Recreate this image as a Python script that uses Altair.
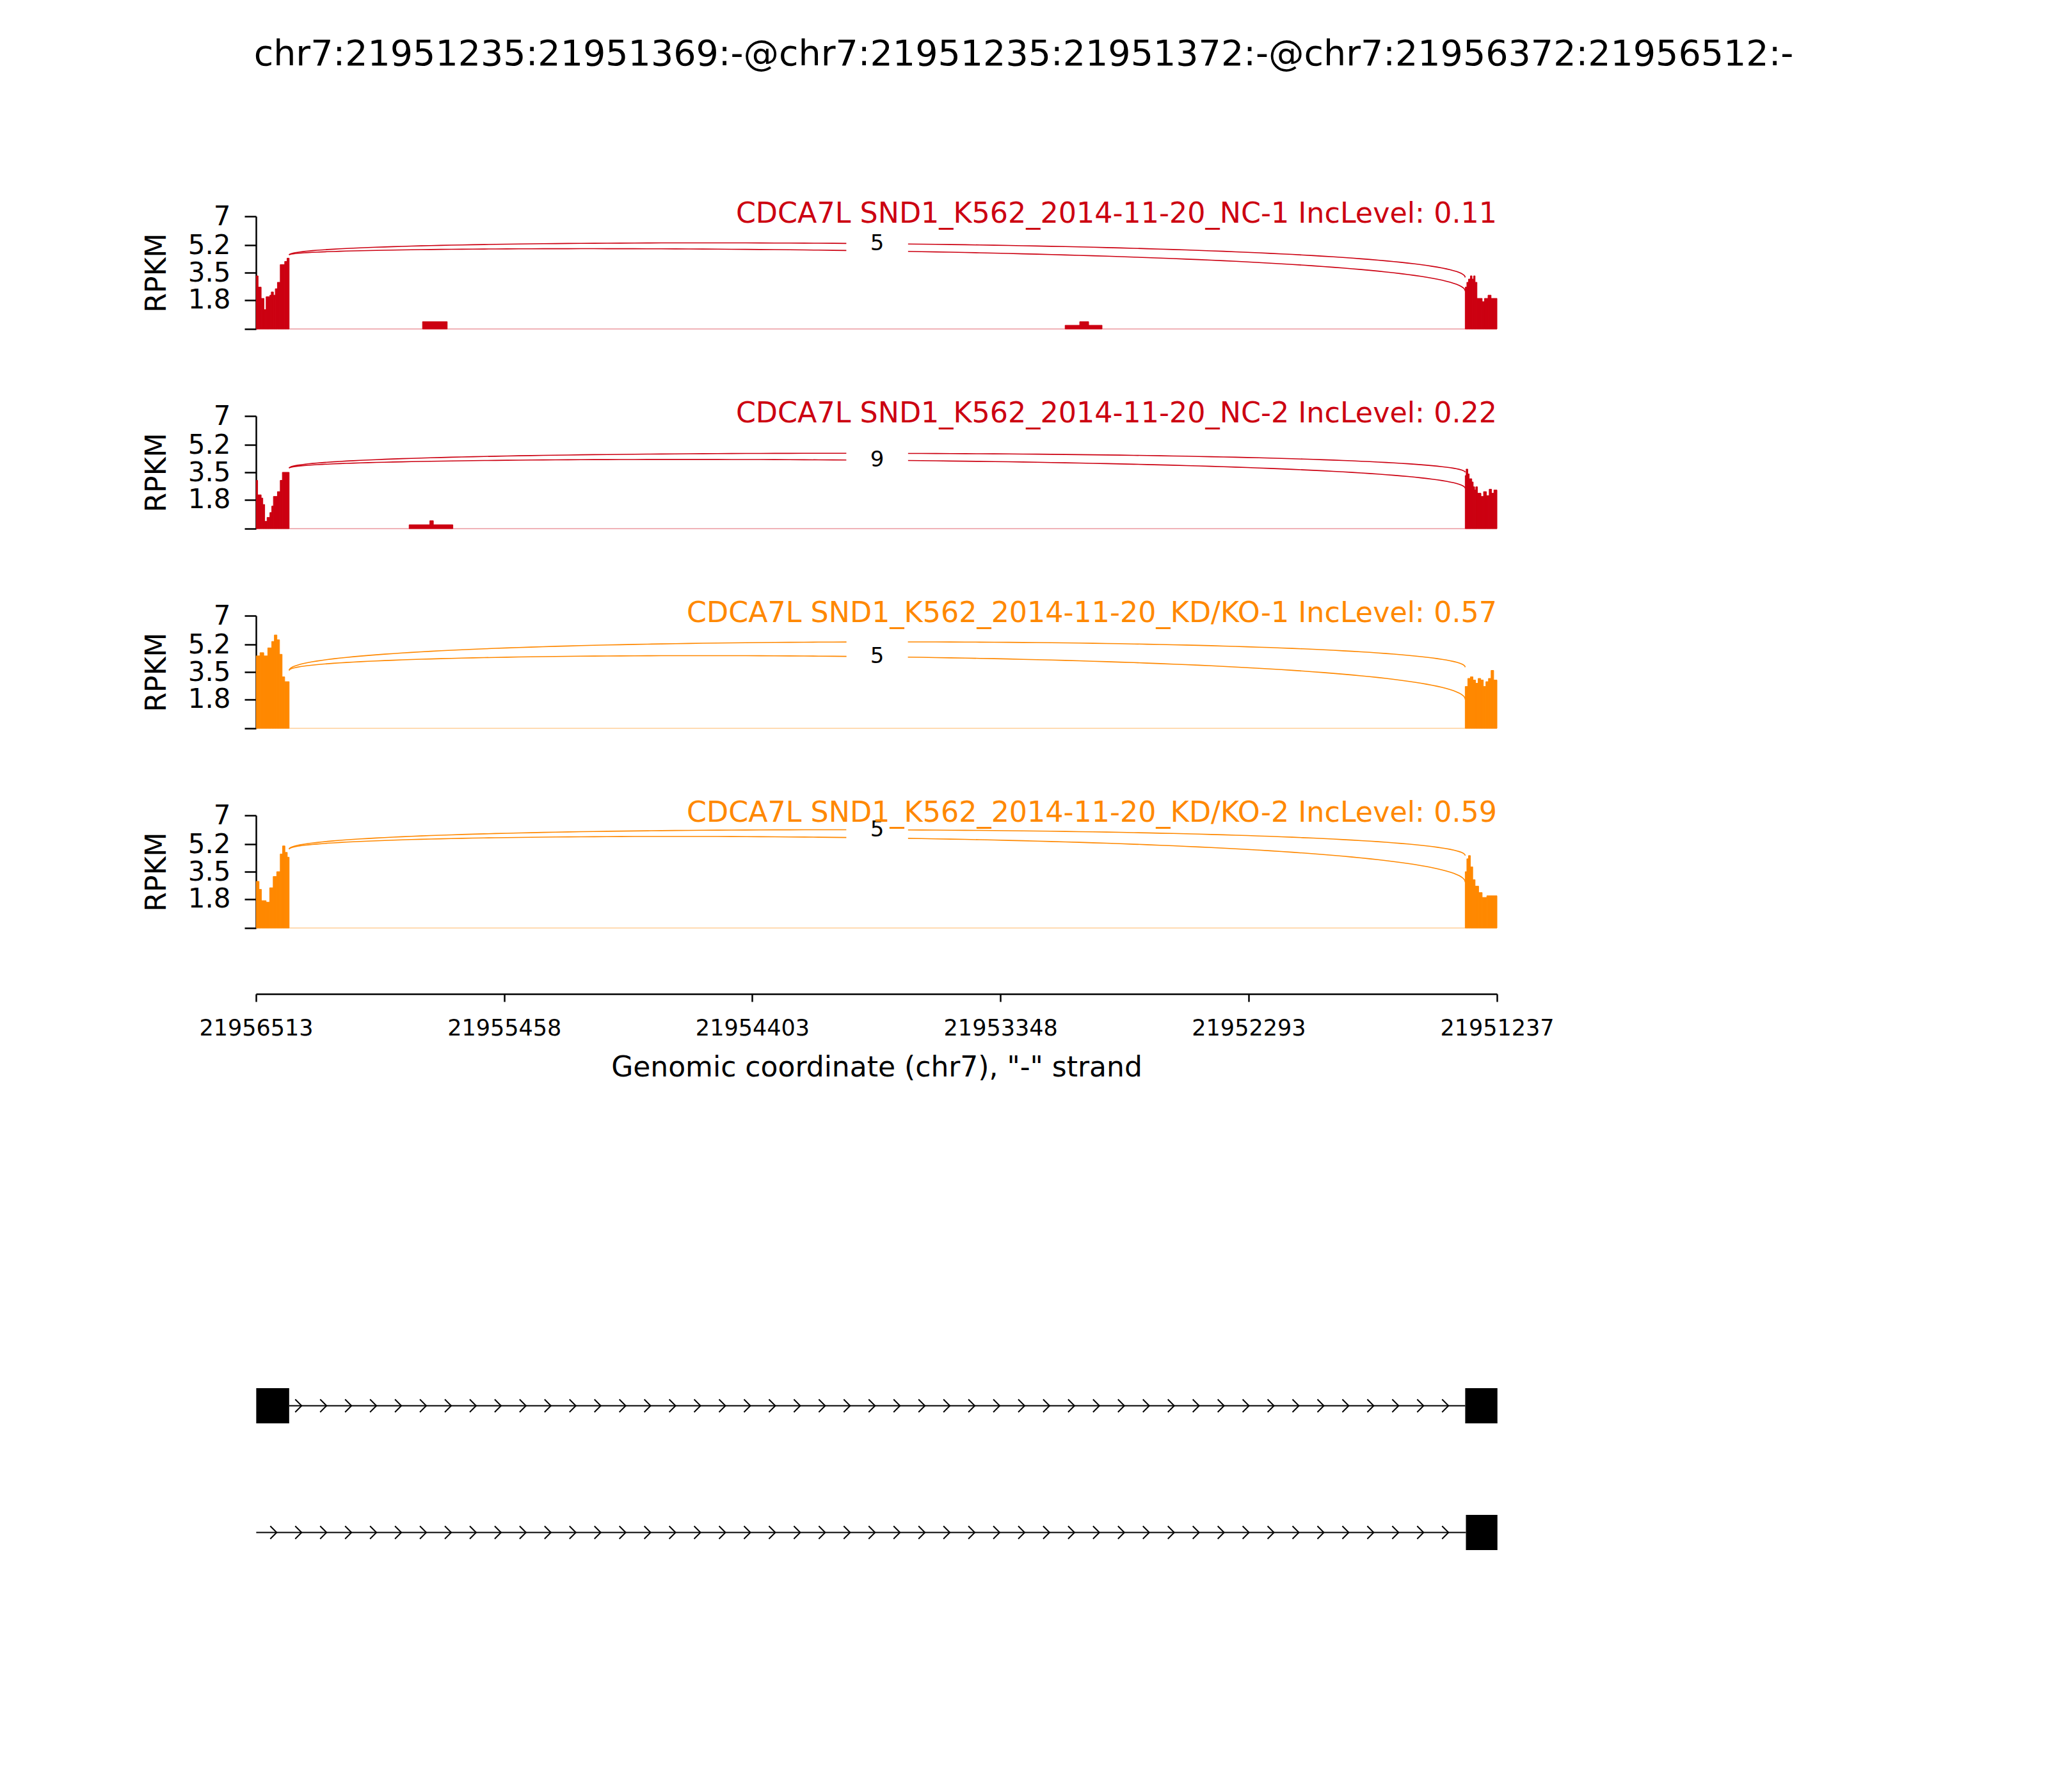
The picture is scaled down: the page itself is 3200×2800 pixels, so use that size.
import altair as alt
import numpy as np
import pandas as pd

FONT = "DejaVu Sans"
TITLE = "chr7:21951235:21951369:-@chr7:21951235:21951372:-@chr7:21956372:21956512:-"
X_LEFT = 21956513
X_RIGHT = 21951237
X_TICKS = [21956513, 21955458, 21954403, 21953348, 21952293, 21951237]
Y_TICKS = [0, 1.8, 3.5, 5.2, 7]
Y_MAX = 7
X_TITLE = 'Genomic coordinate (chr7), "-" strand'

SAMPLES = [
    "CDCA7L SND1_K562_2014-11-20_NC-1 IncLevel: 0.11",
    "CDCA7L SND1_K562_2014-11-20_NC-2 IncLevel: 0.22",
    "CDCA7L SND1_K562_2014-11-20_KD/KO-1 IncLevel: 0.57",
    "CDCA7L SND1_K562_2014-11-20_KD/KO-2 IncLevel: 0.59",
]
COLORS = ["#CC0011", "#CC0011", "#FF8800", "#FF8800"]

# ---- coverage (RPKM) blocks: edges (genomic) and value of each interval ----
S1_EDGES = [
    [21956512, 21956504, 21956491, 21956479, 21956470, 21956454, 21956448, 21956439,
     21956431, 21956422, 21956410, 21956391, 21956381, 21956372],
    [21955805, 21955700],
    [21953073, 21953011, 21952973, 21952916],
    [21951372, 21951365, 21951358, 21951350, 21951343, 21951336, 21951330, 21951322,
     21951300, 21951290, 21951275, 21951262, 21951250, 21951237],
]
S1_VALS = [
    [3.3, 2.6, 1.9, 1.2, 2.0, 2.1, 2.3, 2.1, 2.5, 2.9, 4.0, 4.2, 4.4],
    [0.45],
    [0.23, 0.45, 0.23],
    [2.6, 2.9, 3.1, 3.3, 3.1, 3.3, 2.9, 1.9, 1.7, 1.9, 2.1, 1.9, 1.9],
]
S2_EDGES = [
    [21956512, 21956506, 21956491, 21956484, 21956476, 21956466, 21956454, 21956446,
     21956439, 21956422, 21956410, 21956401, 21956372],
    [21955862, 21955774, 21955759, 21955676],
    [21951372, 21951368, 21951361, 21951355, 21951344, 21951338, 21951332, 21951327,
     21951320, 21951305, 21951294, 21951282, 21951270, 21951260, 21951250, 21951237],
]
S2_VALS = [
    [3.0, 2.1, 1.9, 1.5, 0.45, 0.7, 1.0, 1.4, 2.0, 2.3, 3.0, 3.5],
    [0.24, 0.49, 0.24],
    [3.3, 3.7, 3.4, 3.1, 2.9, 2.6, 2.4, 2.6, 2.2, 2.0, 2.3, 2.05, 2.45, 2.2, 2.4],
]
S3_EDGES = [
    [21956512, 21956496, 21956480, 21956463, 21956446, 21956435, 21956424, 21956413,
     21956402, 21956391, 21956372],
    [21951372, 21951361, 21951350, 21951339, 21951328, 21951317, 21951306, 21951295,
     21951284, 21951273, 21951262, 21951251, 21951237],
]
S3_VALS = [
    [4.5, 4.7, 4.5, 5.0, 5.4, 5.8, 5.5, 4.6, 3.2, 2.9],
    [2.6, 3.1, 3.2, 3.0, 2.8, 3.1, 3.0, 2.6, 2.9, 3.1, 3.6, 3.0],
]
S4_EDGES = [
    [21956512, 21956500, 21956490, 21956470, 21956455, 21956440, 21956425, 21956410,
     21956400, 21956390, 21956380, 21956372],
    [21951372, 21951365, 21951358, 21951350, 21951340, 21951330, 21951315, 21951300,
     21951280, 21951260, 21951237],
]
S4_VALS = [
    [2.9, 2.4, 1.7, 1.6, 2.5, 3.2, 3.5, 4.6, 5.1, 4.7, 4.4],
    [3.5, 4.3, 4.5, 3.8, 3.0, 2.6, 2.2, 1.9, 2.0, 2.0],
]
COV_EDGES = [S1_EDGES, S2_EDGES, S3_EDGES, S4_EDGES]
COV_VALS = [S1_VALS, S2_VALS, S3_VALS, S4_VALS]

# ---- junction arcs (start, middle and end heights) ----
JUNC_LEFT = 21956372
JUNC_RIGHT = 21951372
ARC_Y_LEFT = [4.6, 3.76, 3.6, 4.9]
ARC_UP_MID = [5.3, 4.68, 5.37, 6.1]
ARC_UP_END = [3.2, 3.5, 3.8, 4.5]
ARC_LO_MID = [4.85, 4.25, 4.45, 5.6]
ARC_LO_END = [2.35, 2.5, 1.8, 2.85]
ARC_UP_LABEL = ["5", "", "", "5"]
ARC_LO_LABEL = ["", "9", "5", ""]

# ---- gene model tracks ----
TRACK_EXONS = [
    [(21956512, 21956372), (21951372, 21951235)],
    [(21951369, 21951235)],
]
TRACK_LINES = [(21956372, 21951372), (21956512, 21951369)]
TRACK_ARROW_START = [21956330, 21956436]
TRACK_ARROW_STOP = 21951420
ARROW_STEP = 106

XSCALE = alt.Scale(domain=[X_RIGHT, X_LEFT], reverse=True, nice=False, zero=False)
YSCALE = alt.Scale(domain=[0, Y_MAX], nice=False, zero=False)

PANEL_W = 1939
PANEL_H = 176
GAP = 136


def x_axis(show):
    if not show:
        return None
    return alt.Axis(values=X_TICKS, format="d", labelFontSize=35, labelFont=FONT,
                    labelColor="black", tickSize=12, tickWidth=2.5, tickColor="black",
                    domainColor="black", domainWidth=2.5, grid=False, offset=103,
                    labelPadding=24, title=X_TITLE, titleFont=FONT, titleFontSize=44,
                    titleFontWeight="normal", titleColor="black", titlePadding=22,
                    labelFlush=False, labelOverlap=False)


Y_AXIS = alt.Axis(values=Y_TICKS, format=".1~f",
                  labelExpr="datum.value == 0 ? '' : datum.label",
                  labelFontSize=42, labelFont=FONT, labelColor="black", tickSize=18,
                  tickWidth=2.5, tickColor="black", domainColor="black", domainWidth=2.5,
                  grid=False, labelPadding=22, title="RPKM", titleFont=FONT,
                  titleFontSize=44, titleFontWeight="normal", titleColor="black",
                  titlePadding=26, labelOverlap=False, labelFlush=False)


def bezier(x0, y0, x1, y1, mid):
    # cubic junction arc with vertical handles; handle height set so the arc
    # passes through the mid height
    h = (8 * mid - y0 - y1) / 6.0
    t = np.linspace(0, 1, 121)
    a, b, c, d = (1 - t) ** 3, 3 * (1 - t) ** 2 * t, 3 * (1 - t) * t ** 2, t ** 3
    xs = a * x0 + b * x0 + c * x1 + d * x1
    ys = a * y0 + (b + c) * h + d * y1
    return xs, ys


def panel(i, show_x):
    color = COLORS[i]
    xa = x_axis(show_x)

    def X(f):
        return alt.X(f + ":Q", scale=XSCALE, axis=xa, title=X_TITLE if show_x else None)

    def Y(f):
        return alt.Y(f + ":Q", scale=YSCALE, axis=Y_AXIS, title="RPKM")

    rows = []
    for edges, vals in zip(COV_EDGES[i], COV_VALS[i]):
        for a, b, v in zip(edges[:-1], edges[1:], vals):
            rows.append({"start": a, "end": b, "rpkm": v, "zero": 0.0})
    cov = pd.DataFrame(rows)

    base_df = pd.DataFrame({"start": [X_LEFT], "end": [X_RIGHT], "zero": [0.0]})
    baseline = alt.Chart(base_df).mark_rule(color=color, opacity=0.3, strokeWidth=2).encode(
        x=X("start"), x2="end", y=Y("zero"))

    bars = alt.Chart(cov).mark_rect(color=color, stroke=color, strokeWidth=1).encode(
        x=X("start"), x2="end", y=Y("rpkm"), y2="zero")

    arcs = []
    for k, (mid, end) in enumerate([(ARC_UP_MID[i], ARC_UP_END[i]),
                                     (ARC_LO_MID[i], ARC_LO_END[i])]):
        xs, ys = bezier(JUNC_LEFT, ARC_Y_LEFT[i], JUNC_RIGHT, end, mid)
        for j, (px, py) in enumerate(zip(xs, ys)):
            arcs.append({"arc": k, "idx": j, "pos": px, "rpkm": py})
    arc_df = pd.DataFrame(arcs)
    arc_lines = alt.Chart(arc_df).mark_line(color=color, strokeWidth=1.6).encode(
        x=X("pos"), y=Y("rpkm"), detail="arc:N", order="idx:Q")

    midx = (JUNC_LEFT + JUNC_RIGHT) / 2
    lab_df = pd.DataFrame({
        "pos": [midx, midx],
        "rpkm": [ARC_UP_MID[i], ARC_LO_MID[i]],
        "txt": [ARC_UP_LABEL[i], ARC_LO_LABEL[i]],
    })
    boxes = alt.Chart(lab_df).mark_point(shape="M-2.4,-0.9H2.4V0.9H-2.4Z", filled=True,
                                         color="white", opacity=1, size=1600).encode(
        x=X("pos"), y=Y("rpkm"))
    texts = alt.Chart(lab_df).mark_text(font=FONT, fontSize=34, color="black",
                                        baseline="middle", align="center").encode(
        x=X("pos"), y=Y("rpkm"), text="txt:N")

    name_df = pd.DataFrame({"pos": [X_RIGHT], "rpkm": [6.62], "txt": [SAMPLES[i]]})
    name = alt.Chart(name_df).mark_text(font=FONT, fontSize=44.4, color=color,
                                        align="right", baseline="alphabetic").encode(
        x=X("pos"), y=Y("rpkm"), text="txt:N")

    return alt.layer(baseline, bars, arc_lines, boxes, texts, name).properties(
        width=PANEL_W, height=PANEL_H)


panels = [panel(i, i == 3) for i in range(4)]

# gene model panel
GY = alt.Scale(domain=[-0.038, 5.083], nice=False, zero=False)
ex_rows, ln_rows, ar_rows = [], [], []
for t, exons in enumerate(TRACK_EXONS):
    tv = 2 - t
    for a, b in exons:
        ex_rows.append({"start": a, "end": b, "lo": tv - 0.139, "hi": tv + 0.139})
    a, b = TRACK_LINES[t]
    ln_rows.append({"start": a, "end": b, "track": tv})
    for p in np.arange(TRACK_ARROW_START[t], TRACK_ARROW_STOP, -ARROW_STEP):
        ar_rows.append({"pos": int(p), "track": tv})

GX = alt.X("start:Q", scale=XSCALE, axis=None)
gene_lines = alt.Chart(pd.DataFrame(ln_rows)).mark_rule(color="black", strokeWidth=2).encode(
    x=GX, x2="end", y=alt.Y("track:Q", scale=GY, axis=None))
gene_arrows = alt.Chart(pd.DataFrame(ar_rows)).mark_point(
    shape="M-0.6,-1L0.4,0L-0.6,1", filled=False, color="black", strokeWidth=2,
    size=400, opacity=1).encode(
    x=alt.X("pos:Q", scale=XSCALE, axis=None), y=alt.Y("track:Q", scale=GY, axis=None))
gene_boxes = alt.Chart(pd.DataFrame(ex_rows)).mark_rect(color="black").encode(
    x=GX, x2="end", y=alt.Y("lo:Q", scale=GY, axis=None), y2="hi")
gene = alt.layer(gene_lines, gene_arrows, gene_boxes).properties(width=PANEL_W, height=1014)

chart = alt.vconcat(*panels, gene, spacing=GAP, bounds="flush").properties(
    title=alt.TitleParams(TITLE, fontSize=55.5, font=FONT, fontWeight="normal",
                          color="black", anchor="middle", frame="group", offset=198,
                          dx=230),
    padding={"left": 215, "top": 50, "right": 40, "bottom": 40},
    background="white",
).configure_view(stroke=None)

chart.save("out.html", embed_options={"renderer": "svg", "actions": False})
